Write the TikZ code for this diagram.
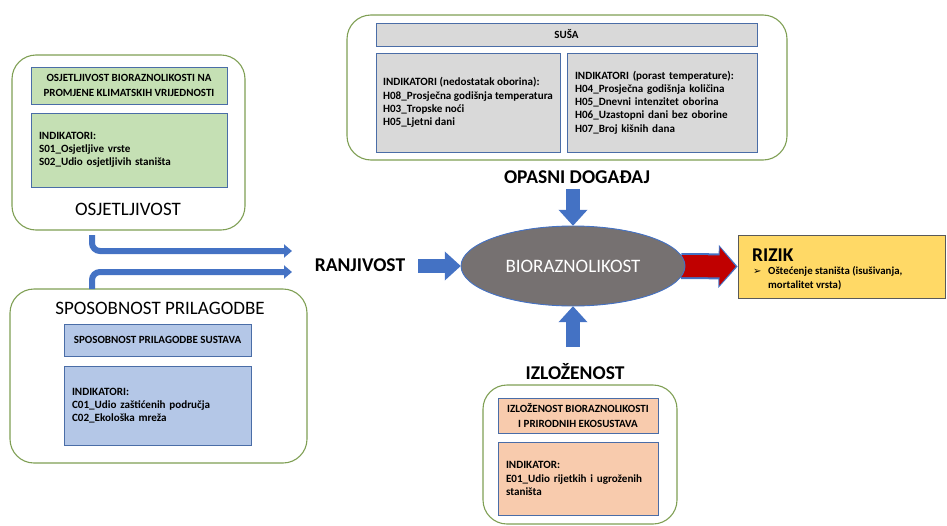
\documentclass[tikz,border=0pt]{standalone}
\usepackage{fontspec}
\setmainfont{Carlito}
\newfontfamily\dejavu{DejaVu Sans}
\usetikzlibrary{arrows.meta,shapes.geometric,shapes.misc}
\definecolor{outgreen}{HTML}{7F9F54}
\definecolor{inblue}{HTML}{4A6DA7}
\definecolor{fgreen}{HTML}{C5E0B4}
\definecolor{fblue}{HTML}{B4C7E7}
\definecolor{fgray}{HTML}{D9D9D9}
\definecolor{forange}{HTML}{F8CBAD}
\definecolor{fyellow}{HTML}{FFD966}
\definecolor{ablue}{HTML}{4472C4}
\definecolor{ellgray}{HTML}{767171}
\definecolor{ared}{HTML}{C00000}
\begin{document}
\begin{tikzpicture}[x=1pt,y=-1pt,
  outerbox/.style={draw=outgreen, line width=1.1pt, rounded corners=24pt, fill=white, inner sep=0pt},
  inbox/.style={draw=inblue, line width=0.8pt, inner sep=0pt},
  titletext/.style={font=\bfseries\fontsize{11}{15}\selectfont, align=center},
  indtext/.style={font=\bfseries\fontsize{11.1}{13.2}\selectfont, align=left, inner xsep=8pt, inner ysep=0pt},
  bigtitle/.style={font=\fontsize{19}{22}\selectfont, inner sep=0pt},
  bigbold/.style={font=\bfseries\fontsize{19.5}{22}\selectfont, inner sep=0pt},
  bentarrow/.style={draw=ablue, line width=6pt, rounded corners=8pt, -{Triangle[length=8pt,width=13pt]}},
  blockarrow/.style={draw=ablue, line width=14pt, -{Triangle[length=16pt,width=28pt]}},
]
\useasboundingbox (0,0) rectangle (947,525);

% OSJETLJIVOST
\node[outerbox, minimum width=233pt, minimum height=175pt] (osj) at (128.5,142.5) {};
\node[inbox, fill=fgreen, minimum width=196pt, minimum height=37pt, titletext] (osjt) at (129,85.5)
  {OSJETLJIVOST BIORAZNOLIKOSTI NA\\PROMJENE KLIMATSKIH VRIJEDNOSTI};
\node[inbox, fill=fgreen, minimum height=74pt, text width=180pt, indtext] (osji) at (129,150)
  {INDIKATORI:\\S01\_Osjetljive vrste\\S02\_Udio osjetljivih staništa};
\node[bigtitle] (osjl) at (128,209) {OSJETLJIVOST};

% SPOSOBNOST PRILAGODBE
\node[outerbox, minimum width=297pt, minimum height=174pt] (spo) at (158.5,376) {};
\node[bigtitle] (spol) at (160,308) {SPOSOBNOST PRILAGODBE};
\node[inbox, fill=fblue, minimum width=187pt, minimum height=32pt, titletext] (spot) at (157.5,340)
  {SPOSOBNOST PRILAGODBE SUSTAVA};
\node[inbox, fill=fblue, minimum height=79pt, text width=171pt, indtext] (spoi) at (157.5,405.5)
  {INDIKATORI:\\C01\_Udio zaštićenih područja\\C02\_Ekološka mreža};

% SUSA
\node[outerbox, minimum width=440pt, minimum height=145pt] (sus) at (567,87.5) {};
\node[inbox, fill=fgray, minimum width=381pt, minimum height=23pt, titletext] (sust) at (566.5,34.5) {SUŠA};
\node[inbox, fill=fgray, minimum width=184pt, minimum height=99pt, indtext, inner xsep=0pt] (susl) at (468,102.5)
  {INDIKATORI (nedostatak oborina):\\H08\_Prosječna godišnja temperatura\\H03\_Tropske noći\\H05\_Ljetni dani};
\node[inbox, fill=fgray, minimum height=99pt, text width=174pt, indtext] (susr) at (662,102.5)
  {INDIKATORI (porast temperature):\\H04\_Prosječna godišnja količina\\H05\_Dnevni intenzitet oborina\\H06\_Uzastopni dani bez oborine\\H07\_Broj kišnih dana\\[3pt]};
\node[bigbold] (opa) at (577,177) {OPASNI DOGAĐAJ};

% IZLOZENOST
\node[bigbold] (izll) at (575,372) {IZLOŽENOST};
\node[outerbox, minimum width=194pt, minimum height=139pt] (izl) at (580,454.5) {};
\node[inbox, fill=forange, minimum width=160pt, minimum height=35pt, titletext] (izlt) at (578,415.5)
  {IZLOŽENOST BIORAZNOLIKOSTI\\I PRIRODNIH EKOSUSTAVA};
\node[inbox, fill=forange, minimum height=73pt, text width=144pt, indtext] (izli) at (578,478.5)
  {INDIKATOR:\\E01\_Udio rijetkih i ugroženih\\staništa};

% RANJIVOST
\node[bigbold] (ran) at (360,265) {RANJIVOST};

% RIZIK
\node[chamfered rectangle, chamfered rectangle corners=south west, chamfered rectangle xsep=8pt,
  chamfered rectangle ysep=8pt, draw=gray!70!black, line width=0.8pt, fill=fyellow,
  minimum width=207pt, minimum height=63pt, inner sep=0pt] (riz) at (841.5,266.5) {};
\node[anchor=base west, font=\bfseries\fontsize{19.5}{22}\selectfont, inner sep=0pt] (rizt) at (752,261) {RIZIK};
\node[anchor=base west, font=\dejavu\fontsize{10}{10}\selectfont, inner sep=0pt] (rizb) at (753,274) {➢};
\node[anchor=base west, font=\bfseries\fontsize{10.8}{14}\selectfont, inner sep=0pt, align=left] (rizx) at (768,274)
  {Oštećenje staništa (isušivanja,};
\node[anchor=base west, font=\bfseries\fontsize{10.8}{14}\selectfont, inner sep=0pt, align=left] (rizy) at (768,288)
  {mortalitet vrsta)};

% ellipse (coordinate holder)
\node[ellipse, minimum width=224pt, minimum height=80pt, inner sep=0pt] (bio) at (573,266) {};

% connectors
\coordinate (a1s) at (92,235);
\coordinate (a1e) at (292,251);
\coordinate (a2s) at (92,289);
\coordinate (a2e) at (292,272);
\draw[bentarrow] (a1s) |- (a1e);
\draw[bentarrow] (a2s) |- (a2e);

\coordinate (ranS) at (418,266);
\coordinate (opaS) at (573,189);
\coordinate (izlS) at (573,347);
\draw[blockarrow] (ranS) -- (bio.west);
\draw[blockarrow] (opaS) -- (bio.north);
\draw[blockarrow] (izlS) -- (bio.south);
\draw[draw=ablue, line width=26pt, -{Triangle[length=19pt,width=42pt]}] ([xshift=-4pt]bio.east) -- (riz.west);
\draw[draw=ared, line width=22pt, -{Triangle[length=16pt,width=37pt]}] ([xshift=-4pt]bio.east) -- ([xshift=-2pt]riz.west);

\node[ellipse, draw=ablue, line width=0.9pt, fill=ellgray, minimum width=224pt, minimum height=80pt,
  inner sep=0pt, text=white, font=\fontsize{19}{22}\selectfont] (biot) at (bio) {BIORAZNOLIKOST};
\end{tikzpicture}
\end{document}
